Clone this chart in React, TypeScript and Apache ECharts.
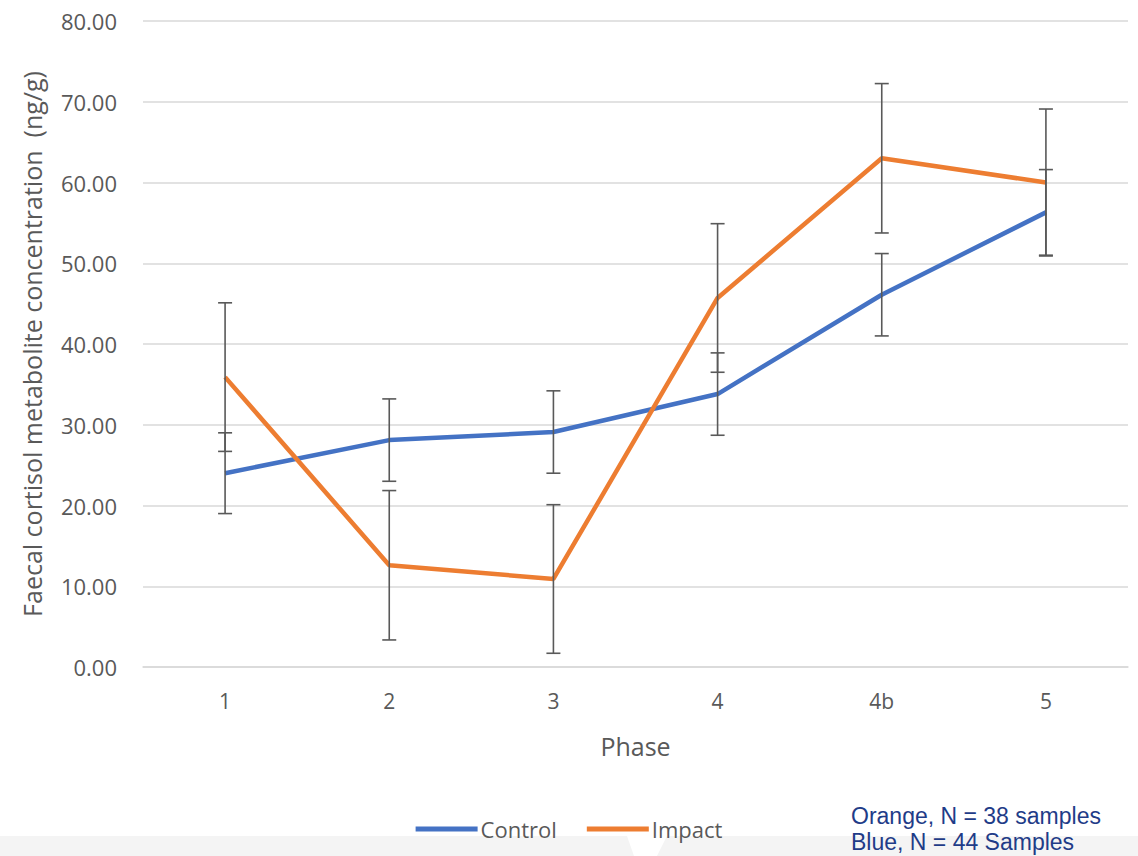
import React, { useEffect, useRef } from "react";
import * as echarts from "echarts";

const phases = ["1", "2", "3", "4", "4b", "5"];
const controlMeans = [24.0, 28.1, 29.1, 33.8, 46.1, 56.3];
const controlErr = [5.0, 5.1, 5.1, 5.1, 5.1, 5.3];
const impactMeans = [35.9, 12.6, 10.9, 45.7, 63.0, 60.0];
const impactErr = [9.2, 9.25, 9.2, 9.2, 9.25, 9.1];
const yTicks = { min: 0, max: 80, interval: 10 };
const noteLines = ["Orange, N = 38 samples", "Blue, N = 44 Samples"];

const FONT = "'Open Sans', 'Noto Sans', sans-serif";
const GREY = "#595959";

function errData(means: number[], errs: number[]) {
  return means.map((m, i) => [i, m - errs[i], m + errs[i]]);
}

function renderErr(params: any, api: any) {
  const x = api.value(0);
  const lo = api.coord([x, api.value(1)]);
  const hi = api.coord([x, api.value(2)]);
  const cap = 7;
  const style = { stroke: "#595959", lineWidth: 1.6 };
  return {
    type: "group",
    children: [
      { type: "line", shape: { x1: lo[0], y1: lo[1], x2: hi[0], y2: hi[1] }, style },
      { type: "line", shape: { x1: hi[0] - cap, y1: hi[1], x2: hi[0] + cap, y2: hi[1] }, style },
      { type: "line", shape: { x1: lo[0] - cap, y1: lo[1], x2: lo[0] + cap, y2: lo[1] }, style },
    ],
  };
}

export default function App() {
  const ref = useRef<HTMLDivElement>(null);
  useEffect(() => {
    if (!ref.current) return;
    const chart = echarts.init(ref.current, undefined, { renderer: "svg" });
    chart.setOption({
      animation: false,
      backgroundColor: "#ffffff",
      grid: { left: 143, right: 10, top: 21, bottom: 189 },
      legend: {
        data: [
          { name: "Control", icon: "rect" },
          { name: "Impact", icon: "rect" },
        ],
        left: "center",
        top: 813,
        itemWidth: 62,
        itemHeight: 5,
        itemGap: 30,
        textStyle: { fontFamily: FONT, fontSize: 22, color: GREY, padding: [0, 0, 0, -2] },
      },
      xAxis: {
        type: "category",
        data: phases,
        boundaryGap: true,
        name: "Phase",
        nameLocation: "middle",
        nameGap: 66,
        nameTextStyle: { fontFamily: FONT, fontSize: 25, color: GREY },
        axisLine: { show: true, lineStyle: { color: "#d9d9d9", width: 1.5 } },
        axisTick: { show: false },
        axisLabel: { fontFamily: FONT, fontSize: 21, color: GREY, margin: 23 },
      },
      yAxis: {
        type: "value",
        min: yTicks.min,
        max: yTicks.max,
        interval: yTicks.interval,
        name: "Faecal cortisol metabolite concentration  (ng/g)",
        nameLocation: "middle",
        nameGap: 99,
        nameRotate: 90,
        nameTextStyle: { fontFamily: FONT, fontSize: 25, color: GREY },
        axisLine: { show: false },
        axisTick: { show: false },
        axisLabel: {
          fontFamily: FONT,
          fontSize: 22,
          color: GREY,
          margin: 26,
          formatter: (v: number) => v.toFixed(2),
        },
        splitLine: { lineStyle: { color: "#d9d9d9", width: 1.5 } },
      },
      series: [
        {
          name: "Control",
          type: "line",
          data: controlMeans,
          symbol: "none",
          itemStyle: { color: "#4472C4" },
          lineStyle: { color: "#4472C4", width: 4.5 },
          z: 3,
        },
        {
          name: "Impact",
          type: "line",
          data: impactMeans,
          symbol: "none",
          itemStyle: { color: "#ED7D31" },
          lineStyle: { color: "#ED7D31", width: 4.5 },
          z: 3,
        },
        {
          name: "ControlErr",
          type: "custom",
          data: errData(controlMeans, controlErr),
          renderItem: renderErr,
          encode: { x: 0, y: [1, 2] },
          z: 5,
          silent: true,
        },
        {
          name: "ImpactErr",
          type: "custom",
          data: errData(impactMeans, impactErr),
          renderItem: renderErr,
          encode: { x: 0, y: [1, 2] },
          z: 5,
          silent: true,
        },
      ],
      graphic: [
        {
          type: "polygon",
          shape: { points: [[0, 836], [627, 836], [634, 856], [0, 856]] },
          style: { fill: "#f4f4f4" },
          z: -1,
        },
        {
          type: "polygon",
          shape: { points: [[667, 836], [1138, 836], [1138, 856], [657, 856]] },
          style: { fill: "#f4f4f4" },
          z: -1,
        },
        {
          type: "text",
          left: 851,
          top: 804,
          style: {
            text: noteLines[0],
            fontFamily: "'Liberation Sans', Arial, sans-serif",
            fontSize: 23,
            fill: "#1F3C88",
          },
        },
        {
          type: "text",
          left: 851,
          top: 830,
          style: {
            text: noteLines[1],
            fontFamily: "'Liberation Sans', Arial, sans-serif",
            fontSize: 23,
            fill: "#1F3C88",
          },
        },
      ],
    });
    return () => chart.dispose();
  }, []);
  return (
    <div
      ref={ref}
      style={{ position: "fixed", left: 0, top: 0, width: 1138, height: 856 }}
    />
  );
}
